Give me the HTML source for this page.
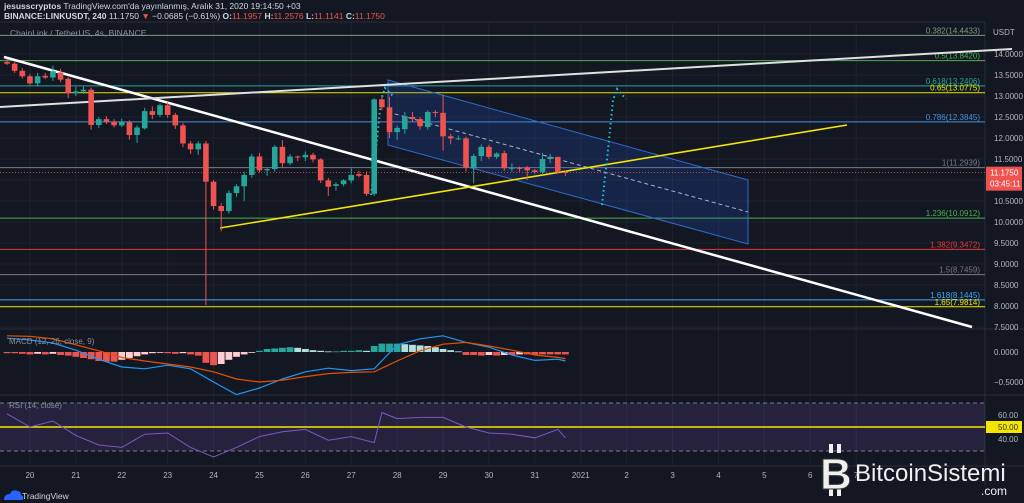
<!DOCTYPE html>
<html><head><meta charset="utf-8"><style>
html,body{margin:0;padding:0;background:#131722;width:1024px;height:503px;overflow:hidden}
svg{display:block;font-family:"Liberation Sans",sans-serif}
</style></head><body>
<svg id="c" width="1024" height="503" viewBox="0 0 1024 503">
<rect x="0" y="0" width="1024" height="503" fill="#131722"/>
<text x="4" y="9" fill="#d1d4dc" font-size="8.5"><tspan font-weight="bold">jesusscryptos</tspan> TradingView.com'da yayınlanmış, Aralık 31, 2020 19:14:50 +03</text>
<text x="4" y="19" fill="#d1d4dc" font-size="8.5"><tspan font-weight="bold">BINANCE:LINKUSDT, 240</tspan> 11.1750 <tspan fill="#ef5350">▼</tspan> −0.0685 (−0.61%) <tspan font-weight="bold">O:</tspan><tspan fill="#ef5350">11.1957</tspan> <tspan font-weight="bold">H:</tspan><tspan fill="#ef5350">11.2576</tspan> <tspan font-weight="bold">L:</tspan><tspan fill="#ef5350">11.1141</tspan> <tspan font-weight="bold">C:</tspan><tspan fill="#ef5350">11.1750</tspan></text>
<g id="grid"></g>
<g id="fibs"></g>
<g id="draw"></g>
<g id="candles"></g>
<g id="macd"></g>
<g id="rsi"></g>
<g id="axes"></g>
<text x="10" y="36" fill="#8a8f9c" font-size="8.5">ChainLink / TetherUS, 4s, BINANCE</text>
<text x="9" y="344" fill="#8a8f9c" font-size="8">MACD (12, 26, close, 9)</text>
<text x="9" y="408" fill="#8a8f9c" font-size="8">RSI (14, close)</text>
<g>
<path d="M4 500 q0-6 6-6 q2-5 7-3 q4 0 4 4 q3 1 2 5z" fill="#2962ff"/>
<text x="22" y="499" fill="#d1d4dc" font-size="8.5">TradingView</text>
</g>
<g>
<rect x="829" y="444" width="4" height="9" fill="#f0f0f0"/>
<rect x="837" y="444" width="4" height="9" fill="#f0f0f0"/>
<rect x="829" y="487" width="4" height="9" fill="#f0f0f0"/>
<rect x="837" y="487" width="4" height="9" fill="#f0f0f0"/>
<text x="820" y="489" fill="#f0f0f0" font-size="44" font-weight="bold" stroke="#333" stroke-width="1">B</text>
<text x="855" y="481" fill="#f0f0f0" font-size="24">BitcoinSistemi</text>
<text x="981" y="495" fill="#f0f0f0" font-size="12">.com</text>
</g>
</svg>
<script>
const opens=[13.81,13.77,13.60,13.47,13.30,13.48,13.44,13.56,13.41,13.06,
13.11,13.15,12.31,12.45,12.39,12.30,12.37,12.07,12.23,12.64,
12.55,12.78,12.55,12.30,11.87,11.73,11.87,10.96,10.38,10.26,
10.69,10.85,11.12,11.56,11.23,11.26,11.79,11.40,11.56,11.54,
11.60,11.49,10.99,10.86,10.90,10.99,11.14,11.12,10.67,12.92,
12.73,12.14,12.21,12.50,12.45,12.26,12.62,12.60,12.04,11.99,
11.99,11.28,11.57,11.79,11.55,11.64,11.28,11.29,11.30,11.23,
11.19,11.50,11.55,11.19];
const closes=[13.77,13.60,13.47,13.30,13.47,13.44,13.59,13.39,13.06,13.11,
13.15,12.31,12.45,12.39,12.30,12.38,12.07,12.25,12.64,12.55,
12.78,12.55,12.30,11.87,11.73,11.87,10.96,10.38,10.26,10.69,
10.85,11.12,11.56,11.23,11.26,11.79,11.40,11.56,11.54,11.60,
11.49,10.99,10.84,10.90,10.99,11.12,11.10,10.67,12.92,12.73,
12.14,12.24,12.52,12.45,12.28,12.62,12.60,12.04,11.99,11.99,
11.30,11.57,11.79,11.55,11.63,11.28,11.29,11.28,11.23,11.19,
11.50,11.55,11.19,11.175];
const highs=[13.88,13.82,13.66,13.52,13.55,13.55,13.72,13.65,13.45,13.22,
13.25,13.20,12.50,12.52,12.45,12.46,12.42,12.30,12.72,12.75,
12.82,12.85,12.60,12.36,11.93,11.92,11.93,11.00,10.45,10.75,
10.90,11.20,11.62,11.65,11.30,11.83,11.95,11.62,11.58,11.68,
11.65,11.52,11.05,10.95,11.02,11.28,11.22,11.20,12.95,12.98,
12.98,12.30,12.62,12.62,12.50,12.66,12.66,13.03,12.10,12.06,
12.03,11.62,11.85,11.84,11.66,11.70,11.40,11.32,11.33,11.26,
11.65,11.62,11.33,11.22];
const lows=[13.74,13.55,13.42,13.26,13.22,13.40,13.36,13.33,12.95,13.00,
13.05,12.20,12.24,12.33,12.25,12.26,11.96,11.88,12.20,12.45,
12.50,12.48,12.22,11.78,11.62,11.60,8.02,10.30,9.78,10.20,
10.60,10.50,11.05,11.18,11.10,11.20,11.30,11.35,11.45,11.45,
11.42,10.93,10.62,10.75,10.85,10.92,11.06,10.62,10.62,12.66,
12.00,11.95,12.10,12.38,12.20,12.20,12.50,11.70,11.85,11.95,
11.20,10.92,11.45,11.50,11.50,11.22,11.20,11.20,11.00,11.15,
11.12,11.40,11.15,11.10];
const histValues=[-0.02,-0.02,-0.03,-0.04,-0.03,-0.04,-0.03,-0.05,
-0.06,-0.08,-0.1,-0.12,-0.15,-0.16,-0.16,-0.13,-0.1,-0.07,-0.04,-0.02,-0.01,
-0.02,-0.03,-0.02,-0.04,-0.06,-0.18,-0.22,-0.2,-0.13,-0.08,-0.04,-0.01,0.02,
0.05,0.06,0.07,0.08,0.07,0.05,0.03,0.02,0.01,0.01,0.02,0.02,0.03,0.02,
0.1,0.14,0.14,0.14,0.13,0.12,0.11,0.1,0.08,0.05,0.03,0.01,
-0.05,-0.05,-0.06,-0.05,-0.06,-0.05,-0.05,-0.04,-0.04,-0.04,-0.04,-0.04,-0.04,-0.04];
const lineIdx=[0,3,6,9,12,15,18,21,24,27,30,33,36,39,42,45,48,51,54,57,60,63,66,69,72,73];
const macdLine=[0.23,0.2,0.15,0.03,-0.12,-0.25,-0.28,-0.22,-0.28,-0.5,-0.71,-0.6,-0.45,-0.33,-0.27,-0.31,-0.28,0.12,0.22,0.27,0.16,0.08,-0.05,-0.14,-0.12,-0.15];
const signalLine=[0.27,0.26,0.22,0.12,0.02,-0.09,-0.15,-0.2,-0.25,-0.33,-0.45,-0.5,-0.47,-0.41,-0.36,-0.34,-0.33,-0.15,0.02,0.13,0.16,0.1,0.03,-0.05,-0.09,-0.11];
const rsiIdx=[0,3,6,9,12,15,18,21,24,27,30,33,36,39,42,45,48,49,51,54,57,60,63,66,69,72,73];
const rsiValues=[61,50,55,43,35,33,44,45,33,25,33,42,46,48,39,42,37,62,57,58,58,50,45,44,41,48,41];
const fibLevels=[14.4433,13.8420,13.2406,13.0775,12.3845,11.2939,10.0912,9.3472,8.7459,8.1445,7.9814];
const fibRatios=['0.382','0.5','0.618','0.65','0.786','1','1.236','1.382','1.5','1.618','1.65'];
const fibColors=['#7e9a7e','#4caf50','#26a69a','#e6e600','#4a90d9','#787b86','#4caf50','#e53935','#787b86','#42a5f5','#e6e600'];
const priceTicks=[14,13.5,13,12.5,12,11.5,11,10.5,10,9.5,9,8.5,8,7.5];
const dayLabels=['20','21','22','23','24','25','26','27','28','29','30','31','2021','2','3','4','5','6','7'];
const lastPrice=11.175;

const NS='http://www.w3.org/2000/svg';
const PLOT_R=985;
const xC=i=>7+i*7.65;
const yP=p=>54+(14-p)*42;
const yM=v=>352-v*60;
const yR=v=>427-(v-50)*1.2;
function mk(g,tag,a){const e=document.createElementNS(NS,tag);for(const k in a)e.setAttribute(k,a[k]);document.getElementById(g).appendChild(e);return e;}

dayLabels.forEach((d,k)=>{const x=xC(3+6*k);
 const ln=mk('grid','line',{x1:x,x2:x,y1:22,y2:466,stroke:'#1e2230','stroke-width':1});
 
 
 const t=mk('axes','text',{x:x,y:478,fill:'#b2b5be','font-size':8,'text-anchor':'middle'});t.textContent=d;
 
 
});
priceTicks.forEach(p=>{const y=yP(p);
 const ln=mk('grid','line',{x1:0,x2:PLOT_R,y1:y,y2:y,stroke:'#1e2230','stroke-width':1});
 
 
 const t=mk('axes','text',{x:994,y:y+3,fill:'#b2b5be','font-size':8});t.textContent=p.toFixed(4);
 
 
});
[329,395,466].forEach(y=>{const l=mk('grid','line',{x1:0,x2:1024,y1:y,y2:y,stroke:'#2a2e39','stroke-width':1});
 
 });
const axl=mk('grid','line',{x1:PLOT_R,x2:PLOT_R,y1:22,y2:485,stroke:'#2a2e39'});


const tl=mk('grid','line',{x1:0,x2:PLOT_R,y1:22,y2:22,stroke:'#2a2e39'});



fibLevels.forEach((p,k)=>{const y=yP(p);
 const l=mk('fibs','line',{x1:0,x2:PLOT_R,y1:y,y2:y,stroke:fibColors[k],'stroke-width':1});
 
 
 const t=mk('fibs','text',{x:980,y:y-2,fill:fibColors[k],'font-size':8,'text-anchor':'end'});
 t.textContent=fibRatios[k]+'('+p.toFixed(4)+')';
 
 
});

const ch=mk('draw','polygon',{points:'388,80 748,180 748,244 388,145',fill:'rgba(41,98,255,0.17)',stroke:'#2f6bd1','stroke-width':1});


const mid=mk('draw','line',{x1:388,y1:112,x2:748,y2:212,stroke:'#b0b3bd','stroke-width':1,'stroke-dasharray':'4,3'});


const wd=mk('draw','line',{x1:4,y1:57,x2:972,y2:327,stroke:'#ffffff','stroke-width':2.5});


const wu=mk('draw','line',{x1:0,y1:107,x2:1012,y2:49,stroke:'#e0e0e0','stroke-width':2});


const yl=mk('draw','line',{x1:220,y1:228,x2:847,y2:125,stroke:'#f5e600','stroke-width':1.6});


const p1=mk('draw','path',{d:'M371 195 L376 150 L381 100 L385 88 L393 96',fill:'none',stroke:'#26c6da','stroke-width':2,'stroke-dasharray':'1.5,3'});


const p2=mk('draw','path',{d:'M602 205 L608 150 L613 100 L617 89 L626 99',fill:'none',stroke:'#26c6da','stroke-width':2,'stroke-dasharray':'1.5,3'});


const lp=mk('draw','line',{x1:0,x2:PLOT_R,y1:yP(lastPrice),y2:yP(lastPrice),stroke:'#ef5350','stroke-width':0.8,'stroke-dasharray':'1,2'});



opens.forEach((o,i)=>{const c=closes[i],x=xC(i),col=c>=o?'#26a69a':'#ef5350';
 const w=mk('candles','line',{x1:x,x2:x,y1:yP(highs[i]),y2:yP(lows[i]),stroke:col,'stroke-width':1});
 
 
 const top=yP(Math.max(o,c)),h=Math.max(1,Math.abs(yP(o)-yP(c)));
 const b=mk('candles','rect',{x:x-2.8,y:top,width:5.6,height:h,fill:col});
 
 
});

const ut=mk('axes','text',{x:993,y:35,fill:'#b2b5be','font-size':8});ut.textContent='USDT';


const pr=mk('axes','rect',{x:986,y:yP(lastPrice)-6,width:36,height:24,fill:'#ef5350'});


const pt=mk('axes','text',{x:990,y:yP(lastPrice)+3,fill:'#fff','font-size':8});pt.textContent=lastPrice.toFixed(4);


const ct=mk('axes','text',{x:990,y:yP(lastPrice)+14,fill:'#fff','font-size':8});ct.textContent='03:45:11';



histValues.forEach((v,i)=>{const prev=i>0?histValues[i-1]:v;
 let col; if(v>=0) col=v>=prev?'#26a69a':'#b2dfdb'; else col=v<=prev?'#ef5350':'#ffcdd2';
 const y0=yM(0),y1=yM(v);
 const r=mk('macd','rect',{x:xC(i)-3.4,y:Math.min(y0,y1),width:6.8,height:Math.max(0.8,Math.abs(y1-y0)),fill:col});
 
 
});
const mpts=lineIdx.map((k,j)=>xC(k)+','+yM(macdLine[j])).join(' ');
const ml=mk('macd','polyline',{points:mpts,fill:'none',stroke:'#2196f3','stroke-width':1.2});


const spts=lineIdx.map((k,j)=>xC(k)+','+yM(signalLine[j])).join(' ');
const sl=mk('macd','polyline',{points:spts,fill:'none',stroke:'#e65100','stroke-width':1.2});


[[0,'0.0000'],[-0.5,'−0.5000']].forEach(([v,s])=>{const t=mk('axes','text',{x:994,y:yM(v)+3,fill:'#b2b5be','font-size':8});t.textContent=s;
 
 });

const band=mk('rsi','rect',{x:0,y:yR(70),width:PLOT_R,height:yR(30)-yR(70),fill:'rgba(126,87,194,0.18)'});


[70,30].forEach(v=>{const l=mk('rsi','line',{x1:0,x2:PLOT_R,y1:yR(v),y2:yR(v),stroke:'#787b86','stroke-dasharray':'4,3'});
 
 });
const mline=mk('rsi','line',{x1:0,x2:PLOT_R,y1:yR(50),y2:yR(50),stroke:'#f5e600','stroke-width':1.5});


const rpts=rsiIdx.map((k,j)=>xC(k)+','+yR(rsiValues[j])).join(' ');
const rl=mk('rsi','polyline',{points:rpts,fill:'none',stroke:'#7e57c2','stroke-width':1});


[60,40].forEach(v=>{const t=mk('axes','text',{x:998,y:yR(v)+3,fill:'#b2b5be','font-size':8});t.textContent=v.toFixed(2);
 
 });
const rb=mk('axes','rect',{x:986,y:yR(50)-6,width:36,height:12,fill:'#f5e600'});


const rt=mk('axes','text',{x:998,y:yR(50)+3,fill:'#333','font-size':8});rt.textContent='50.00';


</script>
</body></html>
